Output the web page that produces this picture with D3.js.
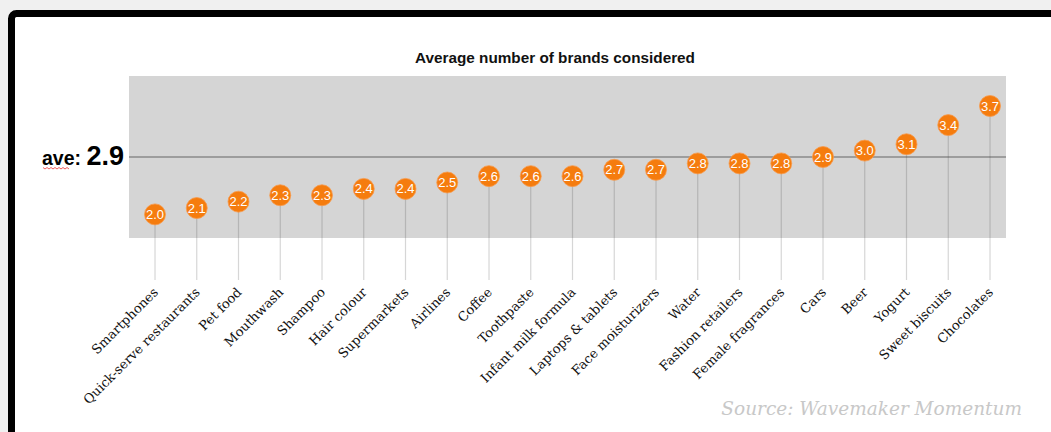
<!DOCTYPE html>
<html>
<head>
<meta charset="utf-8">
<script src="https://cdn.jsdelivr.net/npm/d3@7"></script>
<style>
  html, body { margin: 0; padding: 0; background: #f0f0f0; }
  svg { display: block; }
</style>
</head>
<body>
<svg id="chart" width="1051" height="432"></svg>
<script>
// Average number of brands considered, by category
const categories = [
  "Smartphones", "Quick-serve restaurants", "Pet food", "Mouthwash", "Shampoo",
  "Hair colour", "Supermarkets", "Airlines", "Coffee", "Toothpaste",
  "Infant milk formula", "Laptops & tablets", "Face moisturizers", "Water",
  "Fashion retailers", "Female fragrances", "Cars", "Beer", "Yogurt",
  "Sweet biscuits", "Chocolates"
];
const brandsConsidered = [
  2.0, 2.1, 2.2, 2.3, 2.3, 2.4, 2.4, 2.5, 2.6, 2.6,
  2.6, 2.7, 2.7, 2.8, 2.8, 2.8, 2.9, 3.0, 3.1, 3.4, 3.7
];
const averageValue = 2.9;
const yDomain = [1.63, 4.17];

const svg = d3.select("#chart");

// card frame
svg.append("rect")
  .attr("x", 11.5).attr("y", 13.5)
  .attr("width", 1100).attr("height", 500)
  .attr("rx", 5)
  .attr("fill", "#fff")
  .attr("stroke", "#000")
  .attr("stroke-width", 7);

const panel = { left: 129, right: 1006, top: 76, bottom: 238 };

const x = d3.scalePoint()
  .domain(categories)
  .range([155, 990]);

const y = d3.scaleLinear()
  .domain(yDomain)
  .range([panel.bottom, panel.top]);

// shaded plot panel
svg.append("rect")
  .attr("x", panel.left).attr("y", y(yDomain[1]))
  .attr("width", panel.right - panel.left)
  .attr("height", y(yDomain[0]) - y(yDomain[1]))
  .attr("fill", "#d5d5d5");

// title
svg.append("text")
  .attr("x", 555).attr("y", 63)
  .attr("text-anchor", "middle")
  .attr("font-family", "'Liberation Sans', Arial, sans-serif")
  .attr("font-weight", "bold")
  .attr("font-size", 15.3)
  .attr("fill", "#111")
  .text("Average number of brands considered");

// average reference line
svg.append("line")
  .attr("x1", panel.left).attr("x2", panel.right)
  .attr("y1", y(averageValue)).attr("y2", y(averageValue))
  .attr("stroke", "#8a8a8a")
  .attr("stroke-width", 1.5);

const aveLabel = svg.append("text")
  .attr("x", 124).attr("y", y(averageValue) + 7.5)
  .attr("text-anchor", "end")
  .attr("font-family", "'Liberation Sans', Arial, sans-serif")
  .attr("font-weight", "bold")
  .attr("fill", "#000");
aveLabel.append("tspan").attr("font-size", 19.5).text("ave: ");
aveLabel.append("tspan").attr("font-size", 27).text(d3.format(".1f")(averageValue));

// spelling squiggle under "ave"
const squiggle = d3.path();
squiggle.moveTo(43, y(averageValue) + 10.5);
for (let i = 0; i < 13; i++) {
  squiggle.lineTo(45 + i * 2, y(averageValue) + (i % 2 ? 10.5 : 12));
}
svg.append("path")
  .attr("d", squiggle.toString())
  .attr("fill", "none")
  .attr("stroke", "#e33")
  .attr("stroke-width", 0.8);

// stems
const stemBottom = 280;
svg.append("g")
  .selectAll("line")
  .data(categories)
  .join("line")
  .attr("x1", d => x(d)).attr("x2", d => x(d))
  .attr("y1", (d, i) => y(brandsConsidered[i]))
  .attr("y2", stemBottom)
  .attr("stroke", "#444")
  .attr("stroke-opacity", 0.22)
  .attr("stroke-width", 1.2);

// category labels
svg.append("g")
  .selectAll("text")
  .data(categories)
  .join("text")
  .attr("transform", d => `translate(${x(d) + 4},${stemBottom + 13}) rotate(-45)`)
  .attr("text-anchor", "end")
  .attr("font-family", "'DejaVu Serif', serif")
  .attr("font-size", 13)
  .attr("fill", "#111")
  .text(d => d);

// value dots
const dots = svg.append("g")
  .selectAll("g")
  .data(categories)
  .join("g")
  .attr("transform", (d, i) => `translate(${x(d)},${y(brandsConsidered[i])})`);

dots.append("circle")
  .attr("r", 10.5)
  .attr("fill", "#f57c0e")
  .attr("stroke", "#f89a4c")
  .attr("stroke-width", 0.8);

dots.append("text")
  .attr("y", 4.6)
  .attr("text-anchor", "middle")
  .attr("font-family", "'Liberation Sans', Arial, sans-serif")
  .attr("font-size", 13)
  .attr("fill", "#fff")
  .text((d, i) => d3.format(".1f")(brandsConsidered[i]));

// source note
svg.append("text")
  .attr("x", 1022).attr("y", 415)
  .attr("text-anchor", "end")
  .attr("font-family", "'DejaVu Serif', serif")
  .attr("font-style", "italic")
  .attr("font-size", 18.5)
  .attr("fill", "#c8c8c8")
  .text("Source: Wavemaker Momentum");
</script>
</body>
</html>
